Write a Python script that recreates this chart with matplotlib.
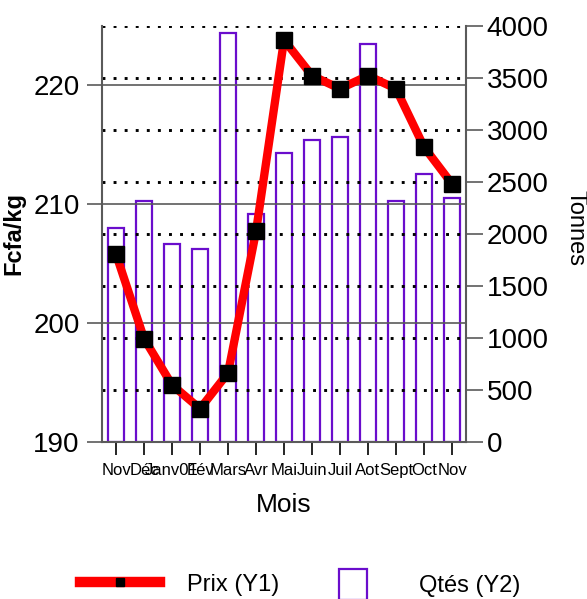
import numpy as np
import matplotlib
matplotlib.use('Agg')
import matplotlib.pyplot as plt
from matplotlib.lines import Line2D
from matplotlib.patches import Patch

plt.rcParams['font.family'] = ['Liberation Sans', 'DejaVu Sans']

# données
mois = ['Nov', 'Déc', 'Janv01', 'Fév', 'Mars', 'Avr', 'Mai', 'Juin', 'Juil', 'Aot', 'Sept', 'Oct', 'Nov']
prix = [205.8, 198.7, 194.8, 192.8, 195.8, 207.7, 223.8, 220.8, 219.7, 220.8, 219.7, 214.8, 211.7]
qtes = [2060, 2315, 1900, 1855, 3930, 2190, 2775, 2905, 2930, 3825, 2315, 2575, 2340]

violet = '#6a0dcc'
gris = '#5a5a5a'

fig = plt.figure(figsize=(5.87, 5.99), dpi=100)
ax = fig.add_axes([0.1738, 0.2621, 0.6201, 0.6950])
ax2 = ax.twinx()

x = np.arange(len(mois))

# barres (Y2)
ax2.bar(x, qtes, width=0.6, fill=False, edgecolor=violet, linewidth=1.6)
ax2.set_ylim(0, 4000)
ax2.set_yticks(range(0, 4001, 500))
ax2.yaxis.grid(True, linestyle=(0, (1, 2.8)), color='black', linewidth=2.1)
ax2.get_ygridlines()[0].set_visible(False)
ax2.tick_params(axis='y', direction='out', length=12, width=1.2, color=gris,
                labelsize=20, pad=3)
for s in ['top', 'left', 'bottom']:
    ax2.spines[s].set_visible(False)
ax2.spines['right'].set_color(gris)
ax2.spines['right'].set_linewidth(1.5)
ax2.set_ylabel('Tonnes', fontsize=17, rotation=-90, ha='center', va='center')
ax2.yaxis.set_label_coords(1.30, 0.514)

# prix (Y1)
ax.set_zorder(ax2.get_zorder() + 1)
ax.patch.set_visible(False)
ax.plot(x, prix, color='red', linewidth=6, marker='s', markersize=11,
        markerfacecolor='black', markeredgecolor='black')
ax.set_xlim(-0.5, 12.5)
ax.set_ylim(190, 225)
ax.set_yticks([190, 200, 210, 220])
ax.set_xticks(x)
ax.set_xticklabels(mois)
ax.set_xticks(range(1, 13, 2), minor=True)
ax.yaxis.grid(True, color=gris, linewidth=1.2)
ax.xaxis.grid(True, which='minor', color=gris, linewidth=1.2)
ax.tick_params(axis='y', direction='out', length=11, width=1.2, color=gris,
               labelsize=20, pad=5)
ax.tick_params(axis='x', which='major', direction='out', length=9, width=1.2,
               color='black', labelsize=12, pad=6)
ax.tick_params(axis='x', which='minor', length=0)
for s in ['top', 'right']:
    ax.spines[s].set_visible(False)
for s in ['left', 'bottom']:
    ax.spines[s].set_color(gris)
    ax.spines[s].set_linewidth(1.5)

ax.set_ylabel('Fcfa/kg', fontsize=17, fontweight='bold')
ax.yaxis.set_label_coords(-0.2115, 0.5)
ax.set_xlabel('Mois', fontsize=19, va='center')
ax.xaxis.set_label_coords(0.5, -0.151)

# légende
h1 = Line2D([], [], color='red', linewidth=7.5, marker='s', markersize=6,
            markerfacecolor='black', markeredgecolor='black')
h2 = Patch(facecolor='white', edgecolor=violet, linewidth=1.6)
fig.legend([h1], ['Prix (Y1)'], loc='center left', bbox_to_anchor=(0.1363, 0.024),
           frameon=False, fontsize=17, borderpad=0, borderaxespad=0,
           handlelength=3.4, handletextpad=1.15, numpoints=1)
fig.legend([h2], ['Qtés (Y2)'], loc='center left', bbox_to_anchor=(0.5775, 0.024),
           frameon=False, fontsize=17, borderpad=0, borderaxespad=0,
           handlelength=1.2, handleheight=1.6, handletextpad=2.2)

fig.savefig('out.png', dpi=100)
